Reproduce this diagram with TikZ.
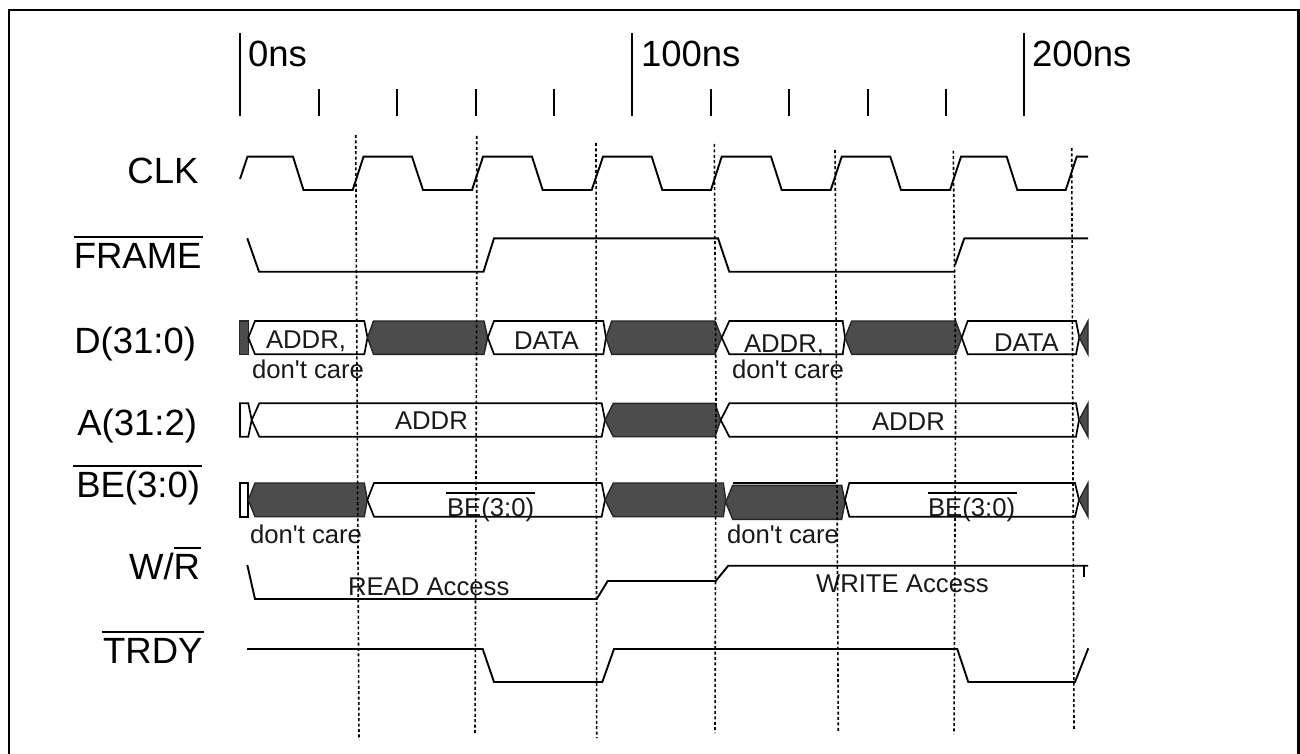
\documentclass[tikz,border=0pt]{standalone}
\usepackage{fontspec}
\setmainfont{Liberation Sans}
\newfontfamily\lsans{Liberation Sans}
\newcommand{\bigf}{\lsans\fontsize{36.5}{37}\selectfont}
\newcommand{\smallf}{\lsans\fontsize{25.7}{26}\selectfont}
% fill-style, top y, bottom y, left tip, left corner, right corner, right tip
\newcommand{\hexbus}[7]{\path[#1] (#4,{(#2+#3)/2}) -- (#5,#2) -- (#6,#2) -- (#7,{(#2+#3)/2}) -- (#6,#3) -- (#5,#3) -- cycle;}
\tikzset{
  frameline/.style={draw=black,line width=2.2pt},
  wave/.style={draw=black,line width=1.9pt,line join=miter},
  tick/.style={draw=black,line width=1.8pt},
  white bus/.style={draw=black,line width=1.7pt,fill=white},
  dark bus/.style={draw=black!85,line width=1.4pt,fill=black!70},
  guide/.style={draw=black,line width=1.6pt,dash pattern=on 3pt off 2.4pt},
  big/.style={anchor=base west,inner sep=0pt,outer sep=0pt,font=\bigf},
  bigr/.style={anchor=base east,inner sep=0pt,outer sep=0pt,font=\bigf},
  lbl/.style={anchor=base west,inner sep=0pt,outer sep=0pt,font=\smallf,text=black!90},
  bar/.style={draw=black,line width=1.8pt},
}
\begin{document}
\begin{tikzpicture}[x=1pt,y=-1pt]
\useasboundingbox (0,0) rectangle (1300,754);
\fill[white] (0,0) rectangle (1300,754);
% frame
\coordinate (fa) at (9,754); \coordinate (fb) at (9,10); \coordinate (fc) at (1298.5,10); \coordinate (fd) at (1298.5,754);
\draw[frameline] (fa) -- (fb) -- (fc) -- (fd);
% ruler
\foreach \x in {240,631.7,1024}{\draw[tick] (\x,33) -- (\x,116);}
\foreach \x in {319,397,476,554,710.7,789,868,946}{\draw[tick] (\x,89) -- (\x,116);}
\node[big] (t0) at (248,67) {0ns};
\node[big] (t100) at (641,67) {100ns};
\node[big] (t200) at (1032,67) {200ns};
% signal names
\node[bigr] (nclk) at (198.5,184) {CLK};
\node[bigr] (nframe) at (201.5,268) {FRAME};
\draw[bar] (74,237) -- (203,237);
\node[bigr] (nd) at (196,353) {D(31:0)};
\node[bigr] (na) at (197,435) {A(31:2)};
\node[bigr] (nbe) at (200,497) {BE(3:0)};
\draw[bar] (73,466) -- (202,466);
\node[bigr] (nwr) at (200,579) {W/R};
\draw[bar] (174,548) -- (201,548);
\node[bigr] (ntrdy) at (202.5,663) {TRDY};
\draw[bar] (102,632) -- (204,632);
% CLK
\draw[wave] (240,179) -- (247.5,156.7) -- (293,156.7) -- (303.5,190) -- (352.7,190) -- (363.5,156.7)
 -- (412,156.7) -- (423,190) -- (472,190) -- (483,156.7) -- (532,156.7) -- (542.7,190) -- (591.7,190) -- (603,156.7)
 -- (651.7,156.7) -- (662.3,190) -- (711,190) -- (721.7,156.7) -- (771,156.7) -- (781.7,190) -- (830.7,190) -- (841.7,156.7)
 -- (890.3,156.7) -- (901,190) -- (950,190) -- (961,156.7) -- (1006.7,156.7) -- (1017.3,190) -- (1065.7,190) -- (1076.7,156.7) -- (1088,156.7);
% FRAME
\draw[wave] (247.3,238.3) -- (259,271.7) -- (483.5,271.7) -- (494,238.3) -- (718,238.3) -- (729.3,271.7) -- (955,271.7);
\draw[wave] (955,265) -- (964.3,238.3) -- (1088,238.3);
% D(31:0)
\path[dark bus] (239.7,321) rectangle (248.3,354.3);
\hexbus{white bus}{321}{354.3}{248.3}{255}{364.3}{367.5}
\hexbus{dark bus}{321}{354.3}{367.5}{373.5}{484}{487.7}
\hexbus{white bus}{321}{354.3}{487.7}{494}{603.3}{606}
\hexbus{dark bus}{321}{354.3}{606}{611.7}{715}{721.7}
\hexbus{white bus}{321}{354.3}{721.7}{729.3}{842.7}{845}
\hexbus{dark bus}{321}{354.3}{845}{851.7}{955.7}{961.7}
\hexbus{white bus}{321}{354.3}{961.7}{967.7}{1076}{1079.3}
\path[dark bus] (1079.3,337.7) -- (1088,321) -- (1088,354.3) -- cycle;
% A(31:2)
\path[white bus] (248.3,403.3) -- (240,403.3) -- (240,436.7) -- (248.3,436.7) -- (251.7,420) -- cycle;
\hexbus{white bus}{403.3}{436.7}{251.7}{259.3}{601.7}{605}
\hexbus{dark bus}{403.3}{436.7}{605}{613.3}{715}{720.7}
\hexbus{white bus}{403.3}{436.7}{720.7}{729.3}{1076}{1079}
\path[dark bus] (1079,420) -- (1088,403.3) -- (1088,436.7) -- cycle;
% BE(3:0)
\path[white bus] (239.7,483) rectangle (248.3,516.7);
\hexbus{dark bus}{483}{516.7}{248.3}{255}{364.3}{367.3}
\hexbus{white bus}{483}{516.7}{367.3}{374}{601.7}{605}
\hexbus{dark bus}{483}{516.7}{605}{613.3}{723.3}{725.7}
\draw[wave] (733,483) -- (836,483);
\hexbus{dark bus}{485.3}{519.3}{725.7}{732.7}{841.7}{845}
\hexbus{white bus}{483}{516.7}{845}{849.3}{1075}{1079}
\path[dark bus] (1079,500) -- (1088,483) -- (1088,516.7) -- cycle;
% W/R
\draw[wave] (247.3,565) -- (255,599) -- (596.7,599) -- (607.7,581) -- (715.7,581) -- (728.3,565.7) -- (1088,565.7);
\draw[wave] (1084,565.7) -- (1084,576.7);
% TRDY
\draw[wave] (247,649) -- (482.7,649) -- (494,682) -- (602.3,682) -- (614,649) -- (957.3,649) -- (968.3,682) -- (1075,682) -- (1088.3,648.3);
% bus labels
\node[lbl] (l1) at (266,348) {ADDR,};
\node[lbl] (l2) at (252,378) {don't care};
\node[lbl] (l3) at (514,349) {DATA};
\node[lbl] (l4) at (395,429) {ADDR};
\node[lbl] (l5) at (447,516) {BE(3:0)};
\draw[bar] (446,493) -- (535,493);
\node[lbl] (l6) at (250,543) {don't care};
\node[lbl] (l7) at (744,352) {ADDR,};
\node[lbl] (l8) at (732,378) {don't care};
\node[lbl] (l9) at (994,351) {DATA};
\node[lbl] (l10) at (872,430) {ADDR};
\node[lbl] (l11) at (928,516) {BE(3:0)};
\draw[bar] (928,493) -- (1017,493);
\node[lbl] (l12) at (727,543) {don't care};
\node[lbl] (l13) at (348,595) {READ Access};
\node[lbl] (l14) at (816,592) {WRITE Access};
% clock-edge guides
\draw[guide] (355.7,135) -- (359,740);
\draw[guide] (476.7,136) -- (476.7,300) -- (475,733);
\draw[guide] (596,143) -- (596.7,738);
\draw[guide] (714.3,144) -- (716,400) -- (715,733);
\draw[guide] (835,150) -- (836,300) -- (838.3,733);
\draw[guide] (953.3,150.7) -- (955.7,380) -- (954,734);
\draw[guide] (1071.7,148) -- (1074,730);
\end{tikzpicture}
\end{document}
